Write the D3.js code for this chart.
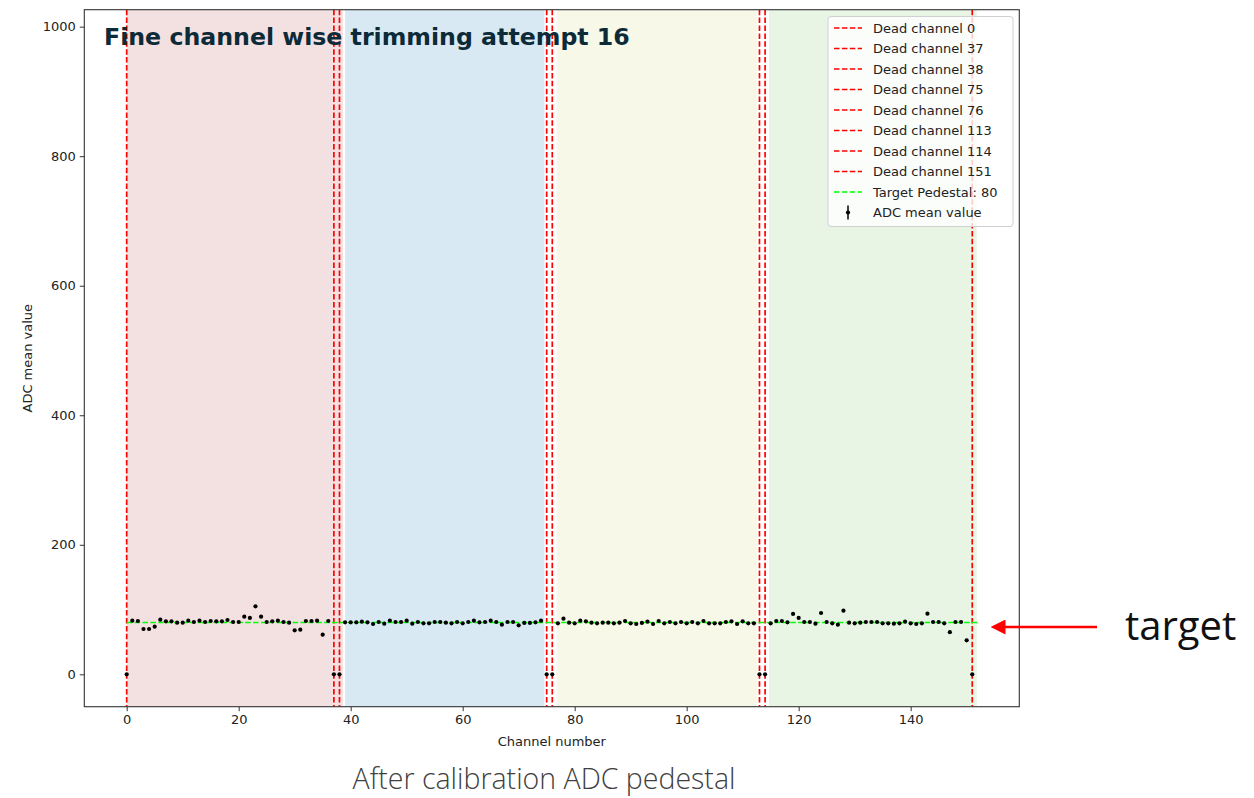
<!DOCTYPE html>
<html>
<head>
<meta charset="utf-8">
<script src="https://cdn.jsdelivr.net/npm/d3@7"></script>
<style>
  html, body { margin: 0; padding: 0; background: #fff; }
  svg { display: block; }
</style>
</head>
<body>
<svg id="chart" width="1254" height="798"></svg>
<script>
// ADC mean value per channel after fine trimming (attempt 16)
const channels = d3.range(0, 152);
const adcMean = [
  0, 82.9, 82.3, 70.0, 70.0, 73.6, 84.4, 81.8, 81.8, 79.8,
  79.8, 82.9, 80.8, 82.9, 80.8, 82.3, 81.8, 81.8, 83.9, 80.8,
  80.8, 89.0, 87.0, 105.0, 89.0, 80.8, 81.8, 82.9, 80.8, 79.8,
  68.0, 69.0, 82.3, 82.3, 82.9, 61.2, 82.3, 0, 0, 80.3,
  80.3, 80.3, 81.3, 80.3, 77.7, 80.8, 78.2, 82.9, 80.8, 80.8,
  82.9, 78.2, 80.8, 78.7, 78.7, 80.8, 80.8, 79.8, 78.7, 80.8,
  78.7, 80.8, 82.9, 80.3, 80.8, 82.9, 80.8, 76.7, 80.8, 80.8,
  75.7, 79.3, 79.3, 80.3, 82.9, 0, 0, 78.7, 85.9, 79.8,
  78.7, 82.9, 81.8, 79.8, 78.7, 79.8, 79.8, 78.7, 79.8, 82.3,
  78.7, 77.7, 79.3, 81.3, 77.7, 82.3, 78.7, 80.8, 78.7, 80.8,
  78.7, 80.8, 78.7, 82.3, 78.7, 78.7, 78.7, 80.8, 81.8, 77.7,
  81.8, 78.7, 78.7, 0, 0, 78.7, 82.3, 82.3, 80.3, 93.2,
  87.0, 80.8, 80.8, 78.2, 94.7, 80.8, 78.7, 76.7, 98.3, 79.8,
  78.7, 79.8, 80.8, 80.8, 80.8, 78.7, 78.7, 78.2, 78.7, 81.3,
  78.7, 77.7, 78.7, 93.7, 80.8, 80.8, 78.7, 65.0, 80.8, 80.8,
  52.5, 0
];
const deadChannels = [0, 37, 38, 75, 76, 113, 114, 151];
const targetPedestal = 80;
const targetRange = [0, 152];
// ASIC half-chip shaded regions [start, end]
const regionStart = [0, 39.0, 76.8, 114.7];
const regionEnd = [38.6, 74.6, 112.6, 151.8];
const regionColors = ["#f3e0e0", "#d9e9f3", "#f7f8e8", "#e8f5e5"];
const xTicks = [0, 20, 40, 60, 80, 100, 120, 140];
const yTicks = [0, 200, 400, 600, 800, 1000];

const svg = d3.select("#chart");
const plot = { left: 84.3, right: 1019.3, top: 9.7, bottom: 706.7 };

const x = d3.scaleLinear().domain([-7.57, 159.4]).range([plot.left, plot.right]);
const y = d3.scaleLinear().domain([-50, 1026.2]).range([plot.bottom, plot.top]);

svg.append("defs").append("clipPath").attr("id", "plotClip")
  .append("rect")
  .attr("x", plot.left).attr("y", plot.top)
  .attr("width", plot.right - plot.left).attr("height", plot.bottom - plot.top);

const g = svg.append("g").attr("clip-path", "url(#plotClip)");

// shaded regions
g.selectAll("rect.region")
  .data(regionStart.map((s, i) => ({ s, e: regionEnd[i], c: regionColors[i] })))
  .join("rect")
  .attr("class", "region")
  .attr("x", d => x(d.s))
  .attr("width", d => x(d.e) - x(d.s))
  .attr("y", plot.top)
  .attr("height", plot.bottom - plot.top)
  .attr("fill", d => d.c);

// dead channel markers
g.selectAll("line.dead")
  .data(deadChannels)
  .join("line")
  .attr("class", "dead")
  .attr("x1", d => x(d)).attr("x2", d => x(d))
  .attr("y1", plot.top).attr("y2", plot.bottom)
  .attr("stroke", "#ff0000")
  .attr("stroke-width", 1.7)
  .attr("stroke-dasharray", "5.5,2.4");

// target pedestal line
g.append("line")
  .attr("x1", x(targetRange[0])).attr("x2", x(targetRange[1]))
  .attr("y1", y(targetPedestal)).attr("y2", y(targetPedestal))
  .attr("stroke", "#00ff00")
  .attr("stroke-width", 1.7)
  .attr("stroke-dasharray", "5.5,2.4");

// ADC mean values
g.selectAll("circle.pt")
  .data(channels.map((c, i) => ({ c, v: adcMean[i] })))
  .join("circle")
  .attr("class", "pt")
  .attr("cx", d => x(d.c))
  .attr("cy", d => y(d.v))
  .attr("r", 2.1)
  .attr("fill", "#000");

// axes
const xAxis = svg.append("g")
  .attr("transform", `translate(0,${plot.bottom})`)
  .call(d3.axisBottom(x).tickValues(xTicks).tickFormat(d3.format("d")).tickSize(4.5).tickPadding(4));
const yAxis = svg.append("g")
  .attr("transform", `translate(${plot.left},0)`)
  .call(d3.axisLeft(y).tickValues(yTicks).tickFormat(d3.format("d")).tickSize(4.5).tickPadding(4));
[xAxis, yAxis].forEach(a => {
  a.select(".domain").remove();
  a.selectAll("line").attr("stroke", "#333").attr("stroke-width", 1);
  a.selectAll("text").attr("font-family", "DejaVu Sans").attr("font-size", 13).attr("fill", "#222");
});

// frame
svg.append("rect")
  .attr("x", plot.left).attr("y", plot.top)
  .attr("width", plot.right - plot.left).attr("height", plot.bottom - plot.top)
  .attr("fill", "none").attr("stroke", "#333").attr("stroke-width", 1.1);

// axis labels
svg.append("text")
  .attr("x", (plot.left + plot.right) / 2).attr("y", 746)
  .attr("text-anchor", "middle")
  .attr("font-family", "DejaVu Sans").attr("font-size", 13).attr("fill", "#222")
  .text("Channel number");
svg.append("text")
  .attr("transform", `translate(32,${(plot.top + plot.bottom) / 2}) rotate(-90)`)
  .attr("text-anchor", "middle")
  .attr("font-family", "DejaVu Sans").attr("font-size", 13).attr("fill", "#222")
  .text("ADC mean value");

// title inside the axes
const title = svg.append("text")
  .attr("x", 104).attr("y", 45)
  .attr("font-family", "DejaVu Sans").attr("font-weight", "bold")
  .attr("font-size", 22).attr("fill", "#0c2a38")
  .text("Fine channel wise trimming attempt 16");
const tw = title.node().getComputedTextLength();
title.attr("font-size", 22 * 526 / tw);

// legend
const legendLabels = deadChannels.map(d => `Dead channel ${d}`)
  .concat([`Target Pedestal: ${targetPedestal}`, "ADC mean value"]);
const lg = svg.append("g");
lg.append("rect")
  .attr("x", 828).attr("y", 16.5).attr("width", 185).attr("height", 210)
  .attr("rx", 3)
  .attr("fill", "rgba(255,255,255,0.8)")
  .attr("stroke", "#d0d0d0").attr("stroke-width", 1);
legendLabels.forEach((lab, i) => {
  const cy = 28 + i * 20.5;
  if (i < deadChannels.length + 1) {
    lg.append("line")
      .attr("x1", 834).attr("x2", 862).attr("y1", cy).attr("y2", cy)
      .attr("stroke", i < deadChannels.length ? "#ff0000" : "#00ff00")
      .attr("stroke-width", 1.7).attr("stroke-dasharray", "5.5,2.4");
  } else {
    lg.append("line")
      .attr("x1", 848).attr("x2", 848).attr("y1", cy - 7).attr("y2", cy + 7)
      .attr("stroke", "#000").attr("stroke-width", 1.5);
    lg.append("circle").attr("cx", 848).attr("cy", cy).attr("r", 2.1).attr("fill", "#000");
  }
  lg.append("text")
    .attr("x", 873).attr("y", cy + 4.5)
    .attr("font-family", "DejaVu Sans").attr("font-size", 13).attr("fill", "#222")
    .text(lab);
});

// caption below the chart
const caption = svg.append("text")
  .attr("x", 544).attr("y", 789)
  .attr("text-anchor", "middle")
  .attr("font-family", "Open Sans").attr("font-weight", 300)
  .attr("font-size", 27).attr("fill", "#404040")
  .text("After calibration ADC pedestal");
const cw = caption.node().getComputedTextLength();
caption.attr("font-size", 27 * 383 / cw);

// target annotation with arrow
svg.append("defs").append("marker")
  .attr("id", "arrowHead")
  .attr("viewBox", "0 0 10 10")
  .attr("refX", 1).attr("refY", 5)
  .attr("markerWidth", 6).attr("markerHeight", 6)
  .attr("markerUnits", "strokeWidth")
  .attr("orient", "auto-start-reverse")
  .append("path").attr("d", "M0,0 L10,5 L0,10 Z").attr("fill", "#ff0000");
svg.append("line")
  .attr("x1", 1097).attr("x2", 1004)
  .attr("y1", y(targetPedestal) + 4.5).attr("y2", y(targetPedestal) + 4.5)
  .attr("stroke", "#ff0000").attr("stroke-width", 2.5)
  .attr("marker-end", "url(#arrowHead)");
svg.append("text")
  .attr("x", 1125).attr("y", 640)
  .attr("font-family", "Open Sans").attr("font-size", 40).attr("fill", "#111")
  .text("target");
</script>
</body>
</html>
